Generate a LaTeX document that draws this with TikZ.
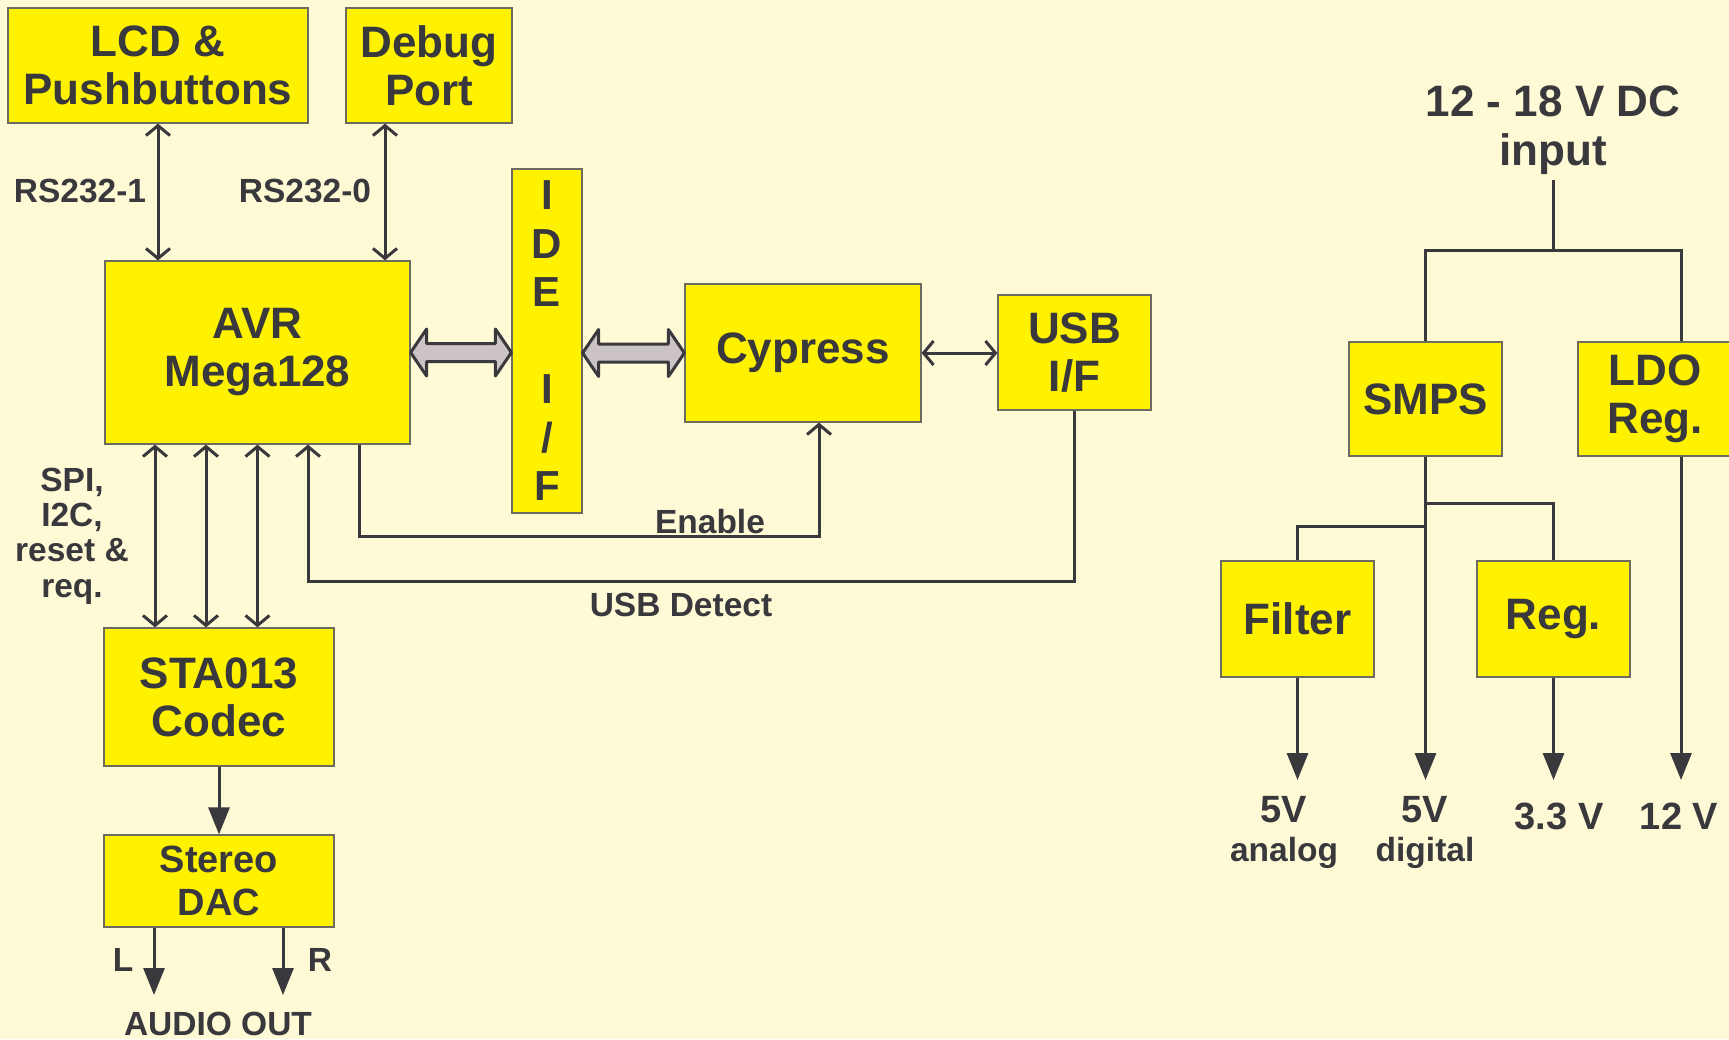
\documentclass[tikz,border=0pt]{standalone}
\usepackage{fontspec}
\setmainfont{Liberation Sans}
\usetikzlibrary{arrows.meta,calc}

\definecolor{figA}{HTML}{FFF200}
\definecolor{figB}{HTML}{38383D}
\definecolor{figC}{HTML}{FFFAD6}
\definecolor{figD}{HTML}{CCC4C4}
\definecolor{figE}{HTML}{6B6B5E}

\newcommand\grossa{\fontsize{22}{24}\selectfont\bfseries}
\newcommand\mitjana{\fontsize{19}{21.5}\selectfont\bfseries}
\newcommand\petita{\fontsize{16.75}{18.5}\selectfont\bfseries}

% fletxa gruixuda de doble punta
\newcommand\fletxadoble[2]{%
  \path[draw=figB,fill=figD,line width=1.5pt,line join=round] let \p1=(#1), \p2=(#2) in
    (\x1,\y1) -- (\x1+8pt,\y1+11.75pt) -- (\x1+8pt,\y1+4.5pt) -- (\x2-8pt,\y1+4.5pt)
    -- (\x2-8pt,\y1+11.75pt) -- (\x2,\y1) -- (\x2-8pt,\y1-11.75pt) -- (\x2-8pt,\y1-4.5pt)
    -- (\x1+8pt,\y1-4.5pt) -- (\x1+8pt,\y1-11.75pt) -- cycle;}

\begin{document}
\begin{tikzpicture}[x=0.5pt,y=-0.5pt,>={Straight Barb[length=5pt,width=12pt]},
  bloc/.style={draw=figE,line width=0.6pt,fill=figA,text=figB,align=center,inner sep=0pt,font=\grossa},
  fil/.style={draw=figB,line width=1.5pt},
  ple/.style={fil,-{Triangle[length=13.5pt,width=10.5pt]}},
  rotul/.style={text=figB,align=center,inner sep=0pt,font=\petita}]
\useasboundingbox[fill=figC] (0,0) rectangle (1729,1039);
% Blocs
\node[bloc,minimum width=150pt,minimum height=57.5pt] (lcd) at (158,65.5) {LCD \&\\Pushbuttons};
\node[bloc,minimum width=83pt,minimum height=57.5pt] (debug) at (429,65.5) {Debug\\Port};
\node[bloc,minimum width=152.5pt,minimum height=91.5pt] (avr) at (257.5,352.5) {AVR\\Mega128};
\node[bloc,minimum width=35pt,minimum height=172pt,font=\fontsize{21}{24.25}\selectfont\bfseries] (ide) at (547,341) {I\\D\\E\\[24.25pt]I\\/\\F};
\node[bloc,minimum width=118pt,minimum height=69pt] (cypress) at (803,353) {Cypress};
\node[bloc,minimum width=76.5pt,minimum height=57.5pt] (usb) at (1074.5,352.5) {USB\\I/F};
\node[bloc,minimum width=115pt,minimum height=69pt] (sta) at (219,697) {STA013\\Codec};
\node[bloc,minimum width=115pt,minimum height=46pt,font=\mitjana] (dac) at (219,881) {Stereo\\DAC};
\node[bloc,minimum width=76.5pt,minimum height=57pt] (smps) at (1425.5,399) {SMPS};
\node[bloc,minimum width=77pt,minimum height=57pt] (ldo) at (1655,399) {LDO\\Reg.};
\node[bloc,minimum width=76.5pt,minimum height=58pt] (filter) at (1297.5,619) {Filter};
\node[bloc,minimum width=76.5pt,minimum height=58pt] (reg) at (1553.5,619) {Reg.};
% Rotuls
\node[rotul,anchor=base] (rs1) at (80,202) {RS232-1};
\node[rotul,anchor=base] (rs0) at (305,202) {RS232-0};
\node[rotul,font=\fontsize{16.75}{17.7}\selectfont\bfseries] (spi) at (72,536) {SPI,\\I2C,\\reset \&\\req.};
\node[rotul,anchor=base] (enable) at (710,533) {Enable};
\node[rotul,anchor=base] (detect) at (681,616) {USB Detect};
\node[rotul] (lout) at (123,960) {L};
\node[rotul] (rout) at (320,960) {R};
\node[rotul,anchor=base] (audio) at (218,1035) {AUDIO OUT};
\node[rotul,font=\fontsize{22}{24.5}\selectfont\bfseries] (vin) at (1553,130) {12 - 18 V DC\\input};
\node[rotul,font=\fontsize{19}{19.5}\selectfont\bfseries] (v5a) at (1284,832) {5V\\{\petita analog}};
\node[rotul,font=\fontsize{19}{19.5}\selectfont\bfseries] (v5d) at (1425,832) {5V\\{\petita digital}};
\node[rotul,font=\mitjana,anchor=base] (v33) at (1559,829) {3.3 V};
\node[rotul,font=\mitjana,anchor=base] (v12) at (1679,829) {12 V};
% Connexions del micro
\draw[fil,<->] (lcd.south) -- (lcd.south |- avr.north);
\draw[fil,<->] ([xshift=-22pt]debug.south) -- ([xshift=-22pt]debug.south |- avr.north);
\fletxadoble{avr.east}{ide.west |- avr.east}
\fletxadoble{ide.east |- cypress.west}{cypress.west}
\draw[fil,<->] (cypress.east) -- (usb.west |- cypress.east);
\foreach \dx in {-51.25,-25.75,0}
  \draw[fil,<->] ([xshift=\dx pt]avr.south) -- ([xshift=\dx pt]avr.south |- sta.north);
\coordinate (enable-c) at (819,536);
\draw[fil,->] ([xshift=50.75pt]avr.south) |- (enable-c) -- (enable-c |- cypress.south);
\coordinate (detect-c) at (308,581);
\draw[fil,->] (usb.south) |- (detect-c) -- (detect-c |- avr.south);
% Audio
\draw[ple] (sta.south) -- (dac.north);
\coordinate (audio-c) at (0,995);
\draw[ple] ([xshift=-32.5pt]dac.south) -- ([xshift=-32.5pt]dac.south |- audio-c);
\draw[ple] ([xshift=32pt]dac.south) -- ([xshift=32pt]dac.south |- audio-c);
% Alimentacio
\coordinate (vin-a) at (1553,180);
\coordinate (vin-b) at (1553,250);
\coordinate (sortida) at (0,780);
\draw[fil] (vin-a) -- (vin-b);
\draw[fil] (smps.north) |- (vin-b) -| ([xshift=13pt]ldo.north);
\draw[fil] (smps.south |- 0,503) -| (reg.north);
\draw[fil] (smps.south |- 0,526) -| (filter.north);
\draw[ple] (smps.south) -- (smps.south |- sortida);
\draw[ple] (filter.south) -- (filter.south |- sortida);
\draw[ple] (reg.south) -- (reg.south |- sortida);
\draw[ple] ([xshift=13pt]ldo.south) -- ([xshift=13pt]ldo.south |- sortida);
\end{tikzpicture}
\end{document}
